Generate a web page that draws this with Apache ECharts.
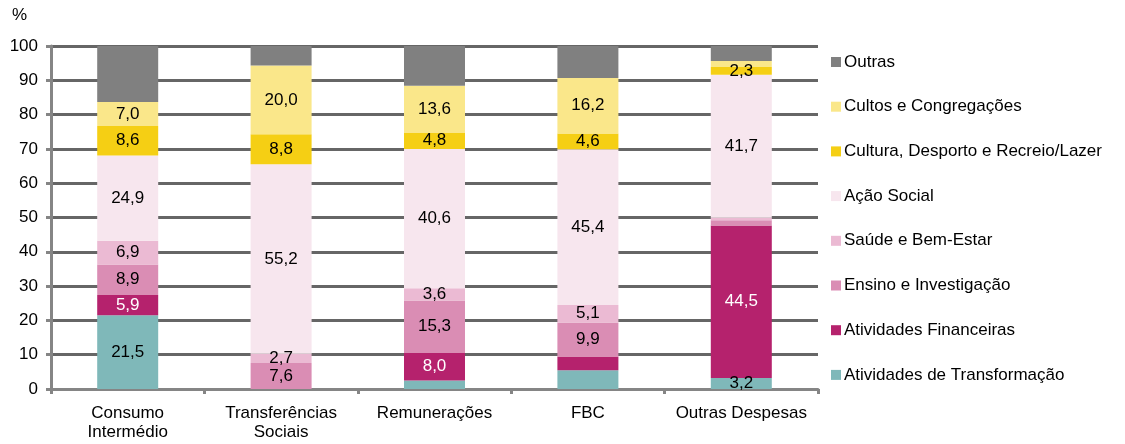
<!DOCTYPE html>
<html>
<head>
<meta charset="utf-8">
<script src="https://cdn.jsdelivr.net/npm/echarts@6/dist/echarts.min.js"></script>
<style>
  html, body { margin: 0; padding: 0; background: #fff; }
  #main { width: 1125px; height: 444px; }
</style>
</head>
<body>
<div id="main"></div>
<script>
  // categorias
  var categories = ['Consumo\nIntermédio', 'Transferências\nSociais', 'Remunerações', 'FBC', 'Outras Despesas']

  // valores (%) por área, de baixo para cima
  var transformacao = [21.5, 0, 2.5, 5.5, 3.2]
  var financeiras = [5.9, 0, 8.0, 4.0, 44.5]
  var ensino = [8.9, 7.6, 15.3, 9.9, 1.5]
  var saude = [6.9, 2.7, 3.6, 5.1, 0.7]
  var acaoSocial = [24.9, 55.2, 40.6, 45.4, 41.7]
  var cultura = [8.6, 8.8, 4.8, 4.6, 2.3]
  var cultos = [7.0, 20.0, 13.6, 16.2, 1.7]
  var outras = [16.3, 5.7, 12.0, 9.8, 4.4]

  // rótulos que não aparecem no gráfico original: [série, categoria]
  var hiddenLabels = [
    ['transformacao', 1], ['transformacao', 2], ['transformacao', 3],
    ['financeiras', 1], ['financeiras', 3],
    ['ensino', 4], ['saude', 4], ['cultos', 4]
  ]

  var seriesDef = [
    { key: 'transformacao', name: 'Atividades de Transformação', data: transformacao, color: '#7fb8b9', text: '#000' },
    { key: 'financeiras', name: 'Atividades Financeiras', data: financeiras, color: '#b5226d', text: '#fff' },
    { key: 'ensino', name: 'Ensino e Investigação', data: ensino, color: '#da8db4', text: '#000' },
    { key: 'saude', name: 'Saúde e Bem-Estar', data: saude, color: '#ebbad3', text: '#000' },
    { key: 'acaoSocial', name: 'Ação Social', data: acaoSocial, color: '#f7e6ee', text: '#000' },
    { key: 'cultura', name: 'Cultura, Desporto e Recreio/Lazer', data: cultura, color: '#f5cf14', text: '#000' },
    { key: 'cultos', name: 'Cultos e Congregações', data: cultos, color: '#fae78a', text: '#000' },
    { key: 'outras', name: 'Outras', data: outras, color: '#808080', text: '#000', noLabel: true }
  ]

  function isHidden(key, i) {
    return hiddenLabels.some(function (h) { return h[0] === key && h[1] === i })
  }

  var font = '"Liberation Sans", Arial, sans-serif'
  var fs = 17

  var series = seriesDef.map(function (s) {
    return {
      name: s.name,
      type: 'bar',
      stack: 'total',
      barWidth: 61,
      itemStyle: { color: s.color },
      label: {
        show: !s.noLabel,
        position: 'inside',
        color: s.text,
        fontSize: fs,
        fontFamily: font,
        formatter: function (p) { return p.value.toFixed(1).replace('.', ',') }
      },
      data: s.data.map(function (v, i) {
        if (s.noLabel || v === 0 || isHidden(s.key, i)) {
          return { value: v, label: { show: false } }
        }
        return v
      })
    }
  })

  var myChart = echarts.init(document.getElementById('main'))
  var option = {
    backgroundColor: '#fff',
    animation: false,
    grid: { left: 51, right: 307, top: 46, bottom: 55, containLabel: false },
    legend: {
      orient: 'vertical',
      left: 831,
      top: 53,
      padding: 0,
      itemWidth: 10,
      itemHeight: 10,
      itemGap: 26.7,
      icon: 'rect',
      textStyle: { fontSize: fs, fontFamily: font, color: '#000', lineHeight: 18, padding: [0, 0, 0, -2] },
      data: seriesDef.map(function (s) { return s.name }).reverse()
    },
    xAxis: {
      type: 'category',
      data: categories,
      axisLine: { lineStyle: { color: '#858585', width: 3 } },
      axisTick: { show: true, length: 5, lineStyle: { color: '#858585', width: 3 } },
      axisLabel: { interval: 0, fontSize: fs, fontFamily: font, color: '#000', margin: 15, lineHeight: 19 }
    },
    yAxis: {
      type: 'value',
      name: '%',
      nameLocation: 'end',
      nameGap: 22,
      nameTextStyle: { fontSize: fs, fontFamily: font, color: '#000', align: 'right', padding: [0, 24, 0, 0] },
      min: 0,
      max: 100,
      interval: 10,
      axisLine: { show: true, lineStyle: { color: '#858585', width: 3 } },
      axisTick: { show: true, length: 5, lineStyle: { color: '#858585', width: 3 } },
      axisLabel: { fontSize: fs, fontFamily: font, color: '#000', margin: 13 },
      splitLine: { lineStyle: { color: '#666', width: 3 } }
    },
    series: series
  }
  myChart.setOption(option)
</script>
</body>
</html>
